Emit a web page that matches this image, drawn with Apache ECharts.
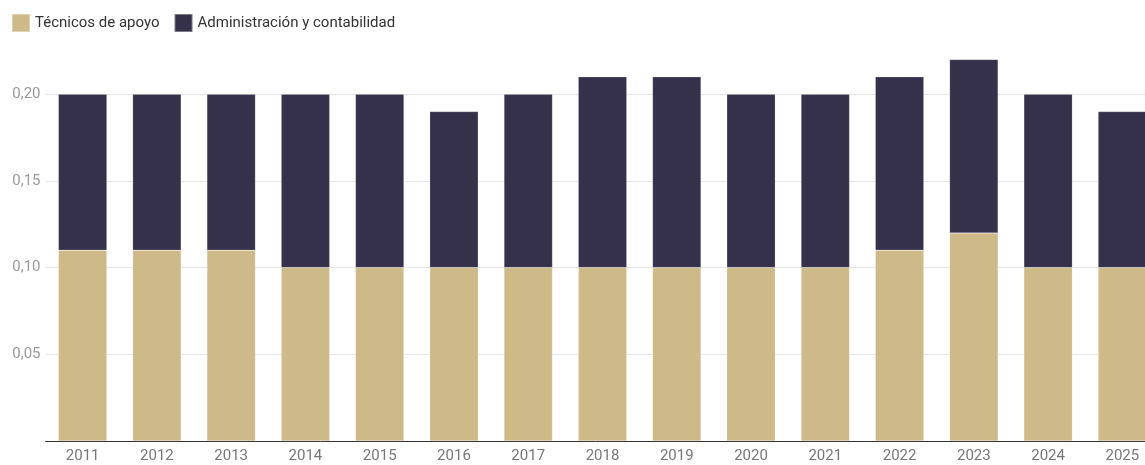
<!DOCTYPE html>
<html>
<head>
<meta charset="utf-8">
<script src="https://cdn.jsdelivr.net/npm/echarts@6/dist/echarts.min.js"></script>
<style>
  html, body { margin: 0; padding: 0; background: #fff; }
  #chart { width: 1145px; height: 465px; }
</style>
</head>
<body>
<div id="chart"></div>
<script>
// Years on the category axis
const years = ['2011', '2012', '2013', '2014', '2015', '2016', '2017', '2018',
               '2019', '2020', '2021', '2022', '2023', '2024', '2025'];
// Stacked shares per year
const tecnicosApoyo = [0.11, 0.11, 0.11, 0.10, 0.10, 0.10, 0.10, 0.10,
                       0.10, 0.10, 0.10, 0.11, 0.12, 0.10, 0.10];
const administracion = [0.09, 0.09, 0.09, 0.10, 0.10, 0.09, 0.10, 0.11,
                        0.11, 0.10, 0.10, 0.10, 0.10, 0.10, 0.09];
const seriesNames = ['Técnicos de apoyo', 'Administración y contabilidad'];

const chart = echarts.init(document.getElementById('chart'), null, { renderer: 'canvas' });
const font = 'Roboto, "Noto Sans", sans-serif';

chart.setOption({
  animation: false,
  color: ['#CEB988', '#35314A'],
  textStyle: { fontFamily: font },
  legend: {
    left: 6, top: 8,
    itemWidth: 18, itemHeight: 18, itemGap: 14,
    icon: 'rect',
    textStyle: { fontSize: 15, color: '#333', fontFamily: font },
    data: seriesNames
  },
  // the last category runs slightly past the right edge of the canvas
  grid: {
    left: 45.5, width: 1114, top: 59.5, bottom: 24,
    containLabel: false, outerBoundsMode: 'none'
  },
  xAxis: {
    type: 'category',
    data: years,
    axisLine: { lineStyle: { color: '#333', width: 1 } },
    axisTick: { show: false },
    axisLabel: { color: '#777', fontSize: 15, margin: 8, fontFamily: font }
  },
  yAxis: {
    type: 'value',
    min: 0, max: 0.22, interval: 0.05,
    axisLine: { show: false },
    axisTick: { show: false },
    splitLine: { showMaxLine: false, lineStyle: { color: '#e6e6e6', width: 1 } },
    axisLabel: {
      color: '#999', fontSize: 15, margin: 5, fontFamily: font,
      showMaxLabel: false,
      formatter: v => (v === 0 ? '' : v.toFixed(2).replace('.', ','))
    }
  },
  series: [
    {
      name: seriesNames[0], type: 'bar', stack: 'total',
      data: tecnicosApoyo, barWidth: '65.3%',
      itemStyle: { borderColor: 'rgba(255,255,255,0.35)', borderWidth: 0.5 }
    },
    {
      name: seriesNames[1], type: 'bar', stack: 'total',
      data: administracion, barWidth: '65.3%',
      itemStyle: { borderColor: 'rgba(255,255,255,0.35)', borderWidth: 0.5 }
    }
  ]
});
</script>
</body>
</html>
